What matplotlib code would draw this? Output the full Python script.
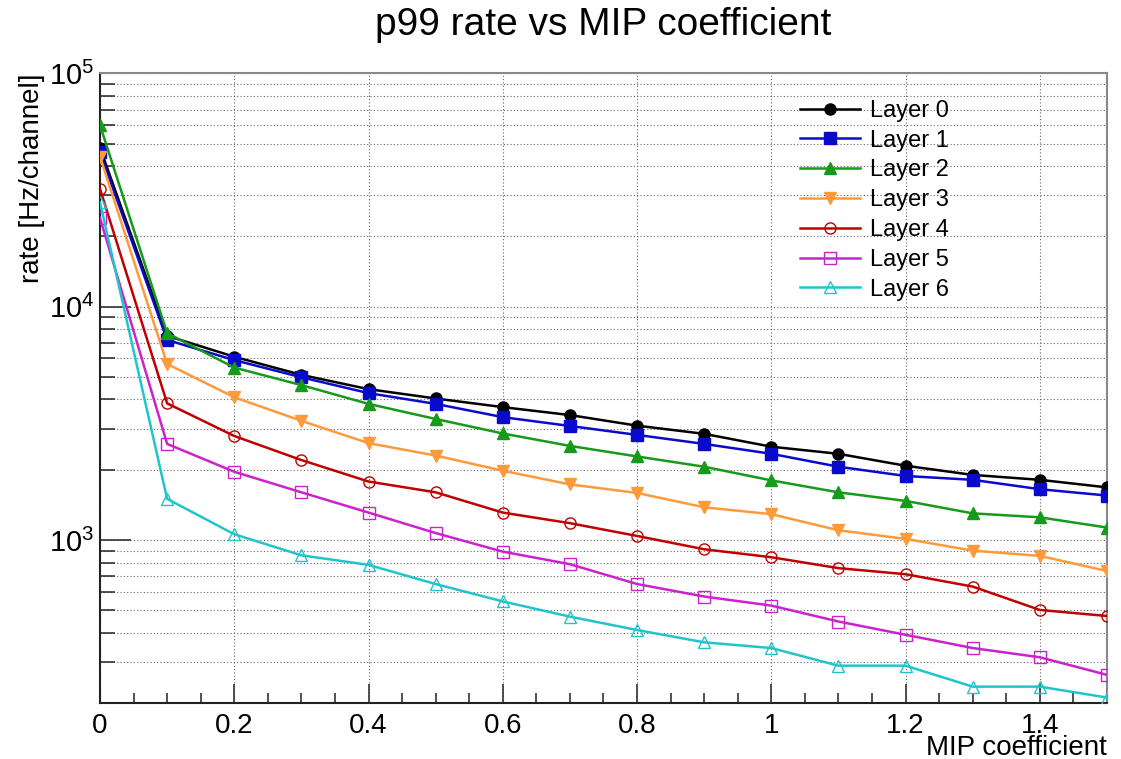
import matplotlib
matplotlib.use("Agg")
import matplotlib.pyplot as plt
from matplotlib.ticker import MultipleLocator, LogLocator, NullFormatter

plt.rcParams['font.family'] = ['Liberation Sans', 'DejaVu Sans']
plt.rcParams['mathtext.fontset'] = 'custom'
plt.rcParams['mathtext.rm'] = 'Liberation Sans'
plt.rcParams['mathtext.it'] = 'Liberation Sans'

# MIP coefficient scan points
mip = [0.0, 0.1, 0.2, 0.3, 0.4, 0.5, 0.6, 0.7, 0.8, 0.9, 1.0, 1.1, 1.2, 1.3, 1.4, 1.5]

# p99 rate per layer [Hz/channel]
layer0 = [48000, 7500, 6100, 5100, 4430, 4040, 3710, 3430, 3090, 2850, 2510, 2340, 2080, 1900, 1810, 1680]
layer1 = [46000, 7200, 5900, 4980, 4260, 3830, 3360, 3080, 2820, 2580, 2340, 2060, 1880, 1810, 1650, 1550]
layer2 = [60000, 7700, 5480, 4610, 3830, 3300, 2860, 2530, 2280, 2060, 1800, 1600, 1470, 1300, 1250, 1130]
layer3 = [44000, 5680, 4090, 3240, 2600, 2300, 1980, 1730, 1590, 1380, 1290, 1100, 1010, 900, 854, 736]
layer4 = [32000, 3850, 2790, 2200, 1780, 1600, 1310, 1180, 1040, 912, 843, 757, 713, 631, 501, 472]
layer5 = [24000, 2580, 1960, 1600, 1310, 1070, 891, 787, 647, 572, 523, 447, 392, 344, 314, 264]
layer6 = [28000, 1500, 1058, 859, 782, 647, 545, 469, 411, 364, 344, 289, 289, 235, 235, 211]

labels = ["Layer 0", "Layer 1", "Layer 2", "Layer 3", "Layer 4", "Layer 5", "Layer 6"]
series = [layer0, layer1, layer2, layer3, layer4, layer5, layer6]
colors = ["#000000", "#0a0acc", "#169a1a", "#ff9a3a", "#c00000", "#cc22cc", "#22c4cc"]
markers = ["o", "s", "^", "v", "o", "s", "^"]
filled = [True, True, True, True, False, False, False]

fig = plt.figure(figsize=(11.21, 7.59), dpi=100)
ax = fig.add_axes([0.0892, 0.0738, 0.8983, 0.8295])

for y, lab, c, m, f in zip(series, labels, colors, markers, filled):
    ax.plot(mip, y, color=c, lw=1.8, marker=m, markersize=8,
            markerfacecolor=c if f else "none", markeredgecolor=c,
            markeredgewidth=1.0, label=lab, zorder=3)

ax.set_yscale("log")
ax.set_xlim(0, 1.5)
ax.set_ylim(200, 1e5)

ax.xaxis.set_minor_locator(MultipleLocator(0.05))
ax.yaxis.set_major_locator(LogLocator(base=10))
ax.yaxis.set_minor_locator(LogLocator(base=10, subs=range(2, 10)))
ax.yaxis.set_minor_formatter(NullFormatter())
ax.set_xticks([0, 0.2, 0.4, 0.6, 0.8, 1.0, 1.2, 1.4])
ax.set_xticklabels(["0", "0.2", "0.4", "0.6", "0.8", "1", "1.2", "1.4"])

ax.tick_params(axis="both", which="both", direction="in", top=False, right=False,
               color="#333333", width=1.2)
ax.tick_params(axis="x", which="major", length=14, labelsize=20, pad=7)
ax.tick_params(axis="x", which="minor", length=7)
ax.tick_params(axis="y", which="major", length=22, labelsize=21, pad=4)
ax.tick_params(axis="y", which="minor", length=11)

ax.grid(True, axis="x", which="major", color="#666666", linestyle=(0, (1, 2)), linewidth=0.8)
ax.grid(True, axis="y", which="both", color="#666666", linestyle=(0, (1, 2)), linewidth=0.8)
ax.set_axisbelow(True)

for s in ("left", "bottom"):
    ax.spines[s].set_color("#222222")
    ax.spines[s].set_linewidth(1.5)
for s in ("top", "right"):
    ax.spines[s].set_color("#888888")
    ax.spines[s].set_linewidth(1.5)

ax.set_xlabel("MIP coefficient", fontsize=20, loc="right", labelpad=-3)
ax.set_ylabel("rate [Hz/channel]", fontsize=20, loc="top", labelpad=3)
ax.set_title("p99 rate vs MIP coefficient", fontsize=28, pad=28)

ax.legend(loc="upper left", bbox_to_anchor=(0.695, 0.958), frameon=False, fontsize=17,
          handlelength=2.55, handletextpad=0.4, labelspacing=0.33, borderaxespad=0,
          borderpad=0)

fig.savefig("out.png", dpi=100)
